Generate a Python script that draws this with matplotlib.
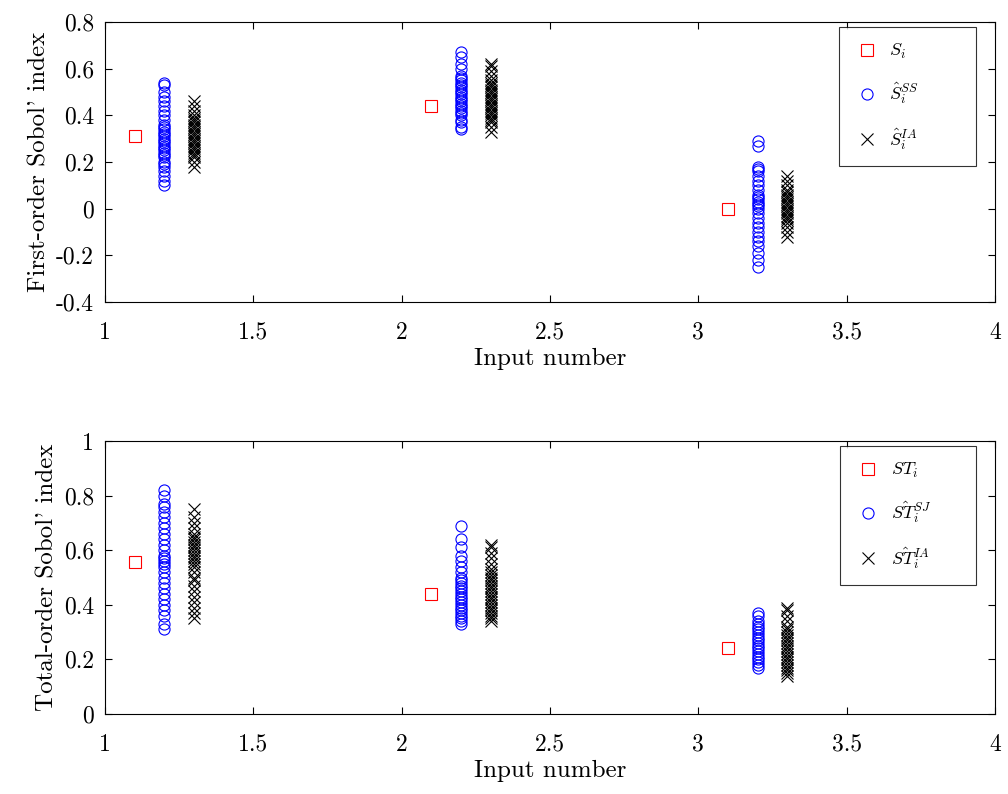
import matplotlib.pyplot as plt

plt.rcParams.update({
    "font.family": "serif",
    "font.serif": ["cmr10", "DejaVu Serif"],
    "mathtext.fontset": "cm",
    "axes.unicode_minus": False,
    "axes.formatter.use_mathtext": False,
    "font.size": 15,
})

# --- data: first-order indices ---
x_true = [1.1, 2.1, 3.1]
s_true = [0.31, 0.44, 0.0]

ss_1 = [0.10, 0.12, 0.14, 0.16, 0.18, 0.19, 0.20, 0.22, 0.23, 0.24, 0.25, 0.26, 0.27, 0.28, 0.29,
        0.30, 0.31, 0.32, 0.33, 0.34, 0.35, 0.36, 0.38, 0.40, 0.42, 0.44, 0.46, 0.48, 0.50, 0.53, 0.54]
ia_1 = [0.18, 0.20, 0.22, 0.23, 0.24, 0.25, 0.26, 0.27, 0.28, 0.29, 0.30, 0.31, 0.32, 0.33, 0.34,
        0.35, 0.36, 0.37, 0.38, 0.39, 0.40, 0.42, 0.44, 0.46]
ss_2 = [0.34, 0.35, 0.37, 0.38, 0.40, 0.41, 0.42, 0.43, 0.44, 0.45, 0.46, 0.47, 0.48, 0.49, 0.50,
        0.51, 0.52, 0.53, 0.54, 0.55, 0.56, 0.57, 0.60, 0.62, 0.65, 0.67]
ia_2 = [0.33, 0.35, 0.37, 0.38, 0.39, 0.40, 0.41, 0.42, 0.43, 0.44, 0.45, 0.46, 0.47, 0.48, 0.49,
        0.50, 0.51, 0.52, 0.53, 0.54, 0.55, 0.57, 0.59, 0.61, 0.62]
ss_3 = [-0.25, -0.22, -0.19, -0.16, -0.14, -0.12, -0.10, -0.08, -0.06, -0.04, -0.02, 0.00, 0.01,
        0.02, 0.03, 0.04, 0.05, 0.06, 0.08, 0.10, 0.12, 0.14, 0.16, 0.17, 0.18, 0.27, 0.29]
ia_3 = [-0.12, -0.10, -0.08, -0.06, -0.05, -0.04, -0.03, -0.02, -0.01, 0.00, 0.01, 0.02, 0.03,
        0.04, 0.05, 0.06, 0.07, 0.08, 0.10, 0.12, 0.14]

# --- data: total-order indices ---
st_true = [0.555, 0.44, 0.24]
sj_1 = [0.31, 0.33, 0.36, 0.38, 0.40, 0.42, 0.44, 0.46, 0.48, 0.50, 0.52, 0.54, 0.55, 0.56, 0.57,
        0.58, 0.60, 0.62, 0.64, 0.66, 0.68, 0.70, 0.72, 0.74, 0.76, 0.77, 0.80, 0.82]
ia_t1 = [0.35, 0.37, 0.39, 0.41, 0.43, 0.45, 0.47, 0.49, 0.50, 0.52, 0.54, 0.55, 0.56, 0.57, 0.58,
         0.59, 0.60, 0.61, 0.62, 0.63, 0.64, 0.65, 0.66, 0.68, 0.70, 0.72, 0.75]
sj_2 = [0.33, 0.34, 0.35, 0.36, 0.37, 0.38, 0.39, 0.40, 0.41, 0.42, 0.43, 0.44, 0.45, 0.46, 0.47,
        0.48, 0.49, 0.50, 0.52, 0.54, 0.56, 0.58, 0.61, 0.64, 0.69]
ia_t2 = [0.34, 0.35, 0.36, 0.37, 0.38, 0.39, 0.40, 0.41, 0.42, 0.43, 0.44, 0.45, 0.46, 0.47, 0.48,
         0.49, 0.50, 0.51, 0.52, 0.53, 0.55, 0.57, 0.59, 0.61, 0.62]
sj_3 = [0.17, 0.18, 0.19, 0.20, 0.21, 0.22, 0.23, 0.24, 0.25, 0.26, 0.27, 0.28, 0.29, 0.30, 0.31,
        0.32, 0.33, 0.34, 0.36, 0.37]
ia_t3 = [0.14, 0.15, 0.16, 0.17, 0.18, 0.19, 0.20, 0.21, 0.22, 0.23, 0.24, 0.25, 0.26, 0.27, 0.28,
         0.29, 0.30, 0.31, 0.32, 0.34, 0.36, 0.38, 0.39]

fig = plt.figure(figsize=(10.08, 7.94), dpi=100)
ax1 = fig.add_axes([105/1008, 1-302/794, 890/1008, 280/794])
ax2 = fig.add_axes([105/1008, 1-714/794, 890/1008, 273/794])

mk = dict(linestyle="none", markersize=8, markerfacecolor="none")


def draw(ax, truth, groups_c, groups_x, labels):
    ax.plot(x_true, truth, "s", color="red", markeredgewidth=0.8, label=labels[0], **mk)
    first = True
    for i, vals in enumerate(groups_c):
        ax.plot([i + 1.2] * len(vals), vals, "o", color="blue", markeredgewidth=0.8,
                label=labels[1] if first else None, **mk)
        first = False
    first = True
    for i, vals in enumerate(groups_x):
        ax.plot([i + 1.3] * len(vals), vals, "x", color="black", markeredgewidth=0.8,
                label=labels[2] if first else None, **mk)
        first = False
    ax.set_xlim(1, 4)
    ax.set_xlabel("Input number", fontsize=18, labelpad=3)
    ax.tick_params(direction="in", top=True, right=True, length=5, labelsize=17)
    ax.tick_params(axis="x", pad=14)
    ax.tick_params(axis="y", pad=8)
    leg = ax.legend(loc="upper right", fancybox=False, edgecolor="black", fontsize=13,
                    labelspacing=1.1, borderpad=0.8, handletextpad=0.5, handlelength=1.5,
                    borderaxespad=0.3, bbox_to_anchor=(0.985, 1.0))
    leg.get_frame().set_linewidth(0.8)


draw(ax1, s_true, [ss_1, ss_2, ss_3], [ia_1, ia_2, ia_3],
     [r"$S_i$          ", r"$\hat{S}_i^{SS}$", r"$\hat{S}_i^{IA}$"])
ax1.set_ylim(-0.4, 0.8)
ax1.set_yticks([-0.4, -0.2, 0, 0.2, 0.4, 0.6, 0.8])
ax1.set_yticklabels(["-0.4", "-0.2", "0", "0.2", "0.4", "0.6", "0.8"])
ax1.set_xticks([1, 1.5, 2, 2.5, 3, 3.5, 4])
ax1.set_xticklabels(["1", "1.5", "2", "2.5", "3", "3.5", "4"])
ax1.set_ylabel("First-order Sobol' index", fontsize=18)

draw(ax2, st_true, [sj_1, sj_2, sj_3], [ia_t1, ia_t2, ia_t3],
     [r"$ST_i$        ", r"$\hat{ST}_i^{SJ}$", r"$\hat{ST}_i^{IA}$"])
ax2.set_ylim(0, 1)
ax2.set_yticks([0, 0.2, 0.4, 0.6, 0.8, 1])
ax2.set_yticklabels(["0", "0.2", "0.4", "0.6", "0.8", "1"])
ax2.set_xticks([1, 1.5, 2, 2.5, 3, 3.5, 4])
ax2.set_xticklabels(["1", "1.5", "2", "2.5", "3", "3.5", "4"])
ax2.set_ylabel("Total-order Sobol' index", fontsize=18)

fig.savefig("out.png", dpi=100)
